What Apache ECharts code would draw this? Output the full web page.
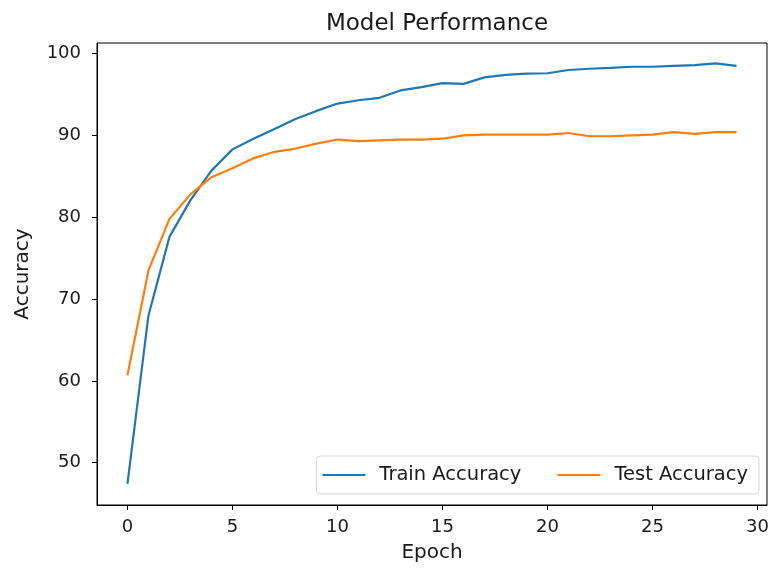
<!DOCTYPE html>
<html>
<head>
<meta charset="utf-8">
<script src="https://cdn.jsdelivr.net/npm/echarts@6/dist/echarts.min.js"></script>
<style>html,body{margin:0;padding:0;background:#fff}#c{width:772px;height:575px}</style>
</head>
<body>
<div id="c"></div>
<script>
const epochs = [0,1,2,3,4,5,6,7,8,9,10,11,12,13,14,15,16,17,18,19,20,21,22,23,24,25,26,27,28,29];
const trainAcc = [47.4,68.0,77.6,82.1,85.7,88.3,89.6,90.8,92.0,93.0,93.9,94.3,94.6,95.5,95.9,96.4,96.3,97.1,97.4,97.55,97.6,98.0,98.15,98.25,98.4,98.4,98.5,98.6,98.8,98.5];
const testAcc = [60.7,73.5,79.8,82.8,84.9,86.0,87.2,88.0,88.4,89.0,89.5,89.3,89.4,89.5,89.5,89.6,90.0,90.1,90.1,90.1,90.1,90.3,89.9,89.9,90.0,90.1,90.4,90.2,90.4,90.4];
const xTicks = [0,5,10,15,20,25,30];
const yTicks = [50,60,70,80,90,100];
const seriesNames = ['Train Accuracy','Test Accuracy'];

const font = 'DejaVu Sans';
const chart = echarts.init(document.getElementById('c'), null, {renderer:'canvas'});
chart.setOption({
  animation:false,
  backgroundColor:'#fff',
  title:{text:'Model Performance', left:432, top:8, textAlign:'center',
    textStyle:{fontFamily:font, fontSize:23, fontWeight:'normal', color:'#1a1a1a'}},
  grid:{left:97, right:4, top:43, bottom:70, show:true, borderColor:'#000', borderWidth:1, containLabel:false},
  legend:{right:13, bottom:81, orient:'horizontal', itemWidth:43, itemHeight:2, itemGap:36,
    icon:'rect', borderColor:'#d5d5d5', borderWidth:1, borderRadius:4, padding:[9,11,9,6],
    textStyle:{fontFamily:font, fontSize:19.5, color:'#1a1a1a', padding:[0,0,0,9]},
    data:seriesNames},
  xAxis:{type:'value', min:-1.45, max:30.45, name:'Epoch', nameLocation:'middle', nameGap:38,
    nameTextStyle:{fontFamily:font, fontSize:20, color:'#1a1a1a'},
    axisLine:{show:true, onZero:false, lineStyle:{color:'#000', width:1}},
    axisTick:{show:true, inside:false, length:5, customValues:xTicks, lineStyle:{color:'#000'}},
    axisLabel:{customValues:xTicks, fontFamily:font, fontSize:18, color:'#1a1a1a', margin:13},
    splitLine:{show:false}},
  yAxis:{type:'value', min:44.83, max:101.3, name:'Accuracy', nameLocation:'middle', nameGap:64, nameRotate:90,
    nameTextStyle:{fontFamily:font, fontSize:20, color:'#1a1a1a'},
    axisLine:{show:true, onZero:false, lineStyle:{color:'#000', width:1}},
    axisTick:{show:true, inside:false, length:5, customValues:yTicks, lineStyle:{color:'#000'}},
    axisLabel:{customValues:yTicks, fontFamily:font, fontSize:18, color:'#1a1a1a', margin:16},
    splitLine:{show:false}},
  series:[
    {name:seriesNames[0], type:'line', showSymbol:false, symbol:'none', color:'#1f77b4',
      lineStyle:{width:2.2, color:'#1f77b4'}, data:epochs.map((e,i)=>[e,trainAcc[i]])},
    {name:seriesNames[1], type:'line', showSymbol:false, symbol:'none', color:'#ff7f0e',
      lineStyle:{width:2.2, color:'#ff7f0e'}, data:epochs.map((e,i)=>[e,testAcc[i]])}
  ]
});
</script>
</body>
</html>
